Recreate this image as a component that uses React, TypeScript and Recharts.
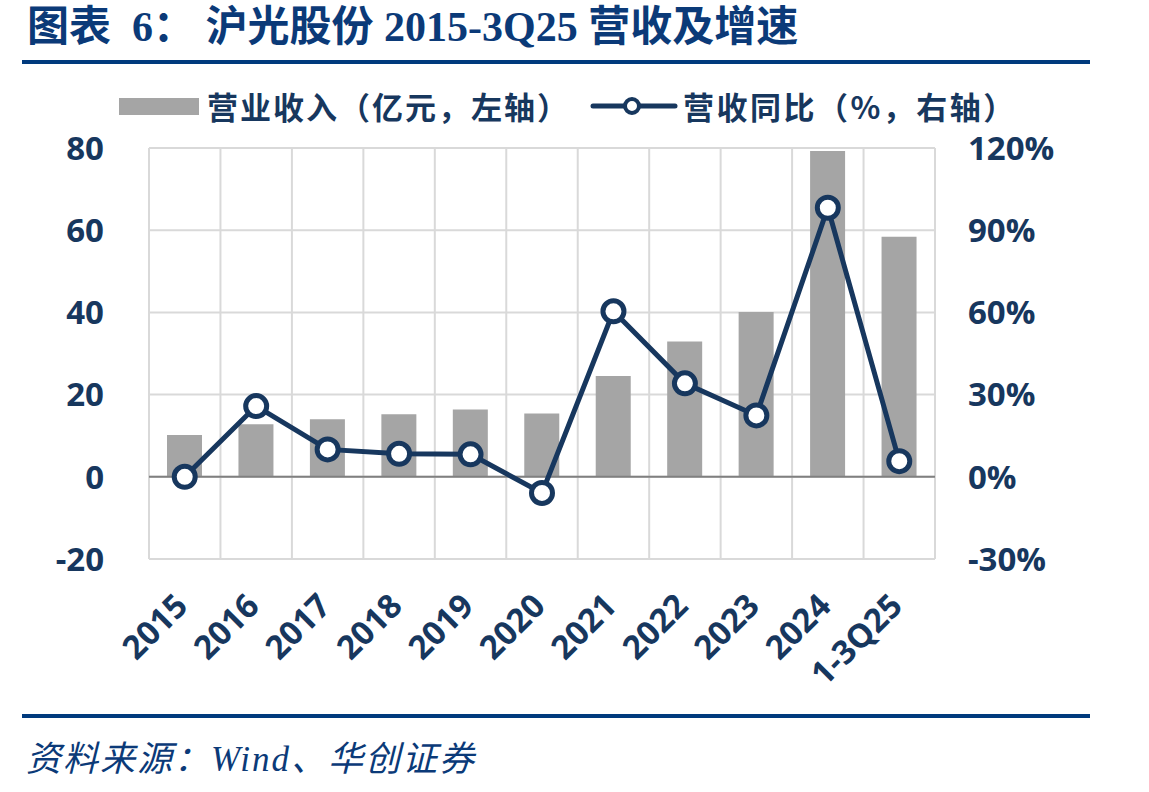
import React from 'react';
import { ComposedChart, Bar, Line, XAxis, YAxis, CartesianGrid, ReferenceLine } from 'recharts';

const categories = ['2015', '2016', '2017', '2018', '2019', '2020', '2021', '2022', '2023', '2024', '1-3Q25'];
const revenue = [10.2, 12.8, 14.0, 15.2, 16.4, 15.4, 24.5, 32.9, 40.1, 79.3, 58.4];
const growth = [0, 25.8, 10.0, 8.4, 8.2, -5.9, 60.4, 34.1, 22.4, 98.2, 5.7];
const leftTicks = [-20, 0, 20, 40, 60, 80];
const rightTicks = [-30, 0, 30, 60, 90, 120];

const titleText = '图表  6： 沪光股份 2015-3Q25 营收及增速';
const legendBar = '营业收入（亿元，左轴）';
const legendLine = '营收同比（%，右轴）';
const sourceText = '资料来源：Wind、华创证券';

const data = categories.map((c, i) => ({ name: c, revenue: revenue[i], growth: growth[i] }));

const NAVY = '#17375E';
const RULE = '#003A7D';
const TICK_FONT = "'Open Sans', 'Noto Sans CJK SC', sans-serif";
const CJK_FONT = "'Noto Sans CJK SC', 'Open Sans', sans-serif";

const XTick = (props: any) => {
  const { x, y, payload } = props;
  const ax = x + 5;
  const ay = y + 49;
  return (
    <text
      x={ax}
      y={ay}
      textAnchor="end"
      fill={NAVY}
      fontFamily={TICK_FONT}
      fontWeight={700}
      fontSize={33}
      transform={`rotate(-45, ${ax}, ${ay})`}
    >
      {payload.value}
    </text>
  );
};

export default function App() {
  return (
    <div style={{ position: 'absolute', left: 0, top: 0, width: 1149, height: 792, background: '#fff', overflow: 'hidden' }}>
      <div
        style={{
          position: 'absolute',
          left: 27,
          top: 2,
          fontFamily: "'Liberation Serif', 'Noto Sans CJK SC', serif",
          fontWeight: 700,
          fontSize: 42,
          lineHeight: '50px',
          color: '#0B3A78',
          whiteSpace: 'pre',
        }}
      >
        {titleText}
      </div>
      <div style={{ position: 'absolute', left: 22, top: 60, width: 1068, height: 4, background: RULE }} />
      <div style={{ position: 'absolute', left: 22, top: 714, width: 1068, height: 4, background: RULE }} />

      <div style={{ position: 'absolute', left: 119, top: 98, width: 80, height: 17, background: '#A5A5A5' }} />
      <div
        style={{
          position: 'absolute',
          left: 207,
          top: 84,
          fontFamily: CJK_FONT,
          fontWeight: 700,
          fontSize: 31,
          lineHeight: '44px',
          letterSpacing: 2,
          color: NAVY,
          whiteSpace: 'pre',
        }}
      >
        {legendBar}
      </div>
      <svg style={{ position: 'absolute', left: 585, top: 90 }} width={100} height={32}>
        <line x1={8} y1={16} x2={90} y2={16} stroke={NAVY} strokeWidth={5} strokeLinecap="round" />
        <circle cx={47} cy={16} r={7} fill="#fff" stroke={NAVY} strokeWidth={4} />
      </svg>
      <div
        style={{
          position: 'absolute',
          left: 683,
          top: 84,
          fontFamily: CJK_FONT,
          fontWeight: 700,
          fontSize: 31,
          lineHeight: '44px',
          letterSpacing: 2.5,
          color: NAVY,
          whiteSpace: 'pre',
        }}
      >
        {legendLine}
      </div>

      <div style={{ position: 'absolute', left: 0, top: 0 }}>
        <ComposedChart
          width={1149}
          height={792}
          data={data}
          margin={{ top: 148, right: 114, left: 0, bottom: 173 }}
        >
          <CartesianGrid
            yAxisId="left"
            stroke="#D9D9D9"
            strokeWidth={2}
            verticalCoordinatesGenerator={({ offset }: any) =>
              Array.from({ length: categories.length + 1 }, (_, i) => offset.left + (i * offset.width) / categories.length)
            }
          />
          <XAxis
            dataKey="name"
            height={60}
            tickLine={false}
            axisLine={false}
            tickSize={0}
            tickMargin={0}
            interval={0}
            tick={<XTick />}
          />
          <YAxis
            yAxisId="left"
            orientation="left"
            width={149}
            domain={[-20, 80]}
            ticks={leftTicks}
            tickLine={false}
            axisLine={false}
            tickSize={0}
            tickMargin={45}
            tick={{ fill: NAVY, fontFamily: TICK_FONT, fontWeight: 700, fontSize: 33 }}
          />
          <YAxis
            yAxisId="right"
            orientation="right"
            width={100}
            domain={[-30, 120]}
            ticks={rightTicks}
            tickLine={false}
            axisLine={false}
            tickSize={0}
            tickMargin={33}
            tickFormatter={(v: number) => `${v}%`}
            tick={{ fill: NAVY, fontFamily: TICK_FONT, fontWeight: 700, fontSize: 33, textAnchor: 'start' }}
          />
          <ReferenceLine yAxisId="left" y={0} stroke="#808080" strokeWidth={2} />
          <Bar yAxisId="left" dataKey="revenue" fill="#A5A5A5" barSize={35} isAnimationActive={false} />
          <Line
            yAxisId="right"
            dataKey="growth"
            stroke={NAVY}
            strokeWidth={5}
            dot={{ r: 10.5, fill: '#fff', stroke: NAVY, strokeWidth: 5 }}
            isAnimationActive={false}
          />
        </ComposedChart>
      </div>

      <div
        style={{
          position: 'absolute',
          left: 26,
          top: 737,
          fontFamily: "'Liberation Serif', 'Noto Sans CJK SC', serif",
          fontStyle: 'italic',
          fontSize: 35,
          lineHeight: '46px',
          color: '#0B3A78',
          whiteSpace: 'pre',
          letterSpacing: 2,
        }}
      >
        {sourceText}
      </div>
    </div>
  );
}
